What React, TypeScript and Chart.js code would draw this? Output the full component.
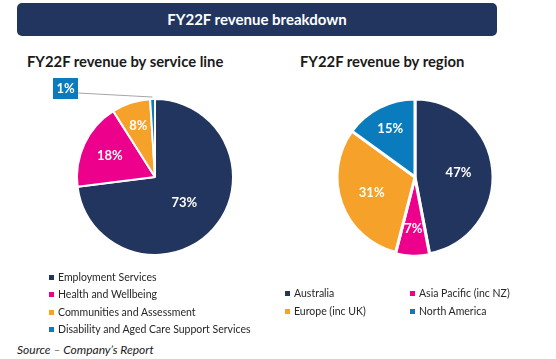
import React, { useEffect, useRef } from "react";
import { Chart, registerables } from "chart.js";

Chart.register(...registerables);

// ---------- data ----------
const serviceLabels = [
  "Employment Services",
  "Health and Wellbeing",
  "Communities and Assessment",
  "Disability and Aged Care Support Services",
];
const serviceValues = [73, 18, 8, 1];

const regionLabels = ["Australia", "Asia Pacific (inc NZ)", "Europe (inc UK)", "North America"];
const regionValues = [47, 7, 31, 15];

const mainTitle = "FY22F revenue breakdown";
const leftTitle = "FY22F revenue by service line";
const rightTitle = "FY22F revenue by region";
const sourceText = "Source \u2013 Company\u2019s Report";

// ---------- styles ----------
const NAVY = "#22355E";
const PINK = "#EC008C";
const ORANGE = "#F6A12A";
const BLUE = "#0A7CBD";
const sliceColors = [NAVY, PINK, ORANGE, BLUE];
const FONT = "Lato, 'Open Sans', sans-serif";

type LabelOpts = {
  radii: number[];
  callout?: boolean[];
};

function makeLabelPlugin(o: LabelOpts) {
  return {
    id: "sliceLabels",
    afterDatasetsDraw(chart: any) {
      const ctx = chart.ctx as CanvasRenderingContext2D;
      const meta = chart.getDatasetMeta(0);
      const data = chart.data.datasets[0].data as number[];
      ctx.save();
      ctx.font = "bold 13px " + FONT;
      ctx.textAlign = "center";
      ctx.textBaseline = "middle";
      meta.data.forEach((arc: any, i: number) => {
        const p = arc.getProps(["x", "y", "startAngle", "endAngle", "outerRadius"], true);
        const mid = (p.startAngle + p.endAngle) / 2;
        const text = data[i] + "%";
        if (o.callout && o.callout[i]) {
          const ex = p.x + Math.cos(mid) * (p.outerRadius + 2);
          const ey = p.y + Math.sin(mid) * (p.outerRadius + 2);
          const bx = p.x - 102;
          const by = p.y - 99;
          const bw = 25;
          const bh = 21;
          ctx.strokeStyle = "#A6A6A6";
          ctx.lineWidth = 1;
          ctx.beginPath();
          ctx.moveTo(bx + bw, by + 15);
          ctx.lineTo(ex, ey);
          ctx.stroke();
          ctx.fillStyle = sliceColors[i];
          ctx.fillRect(bx, by, bw, bh);
          ctx.fillStyle = "#FFFFFF";
          ctx.fillText(text, bx + bw / 2, by + bh / 2 + 0.5);
        } else {
          const r = p.outerRadius * o.radii[i];
          ctx.fillStyle = "#FFFFFF";
          ctx.fillText(text, p.x + Math.cos(mid) * r, p.y + Math.sin(mid) * r);
        }
      });
      ctx.restore();
    },
  };
}

function PieChart(props: {
  labels: string[];
  values: number[];
  width: number;
  height: number;
  left: number;
  top: number;
  border: number;
  offsets: number[];
  label: LabelOpts;
}) {
  const ref = useRef<HTMLCanvasElement | null>(null);
  useEffect(() => {
    if (!ref.current) return;
    const chart = new Chart(ref.current, {
      type: "pie",
      data: {
        labels: props.labels,
        datasets: [
          {
            data: props.values,
            backgroundColor: sliceColors,
            borderColor: "#FFFFFF",
            borderWidth: props.border,
            offset: props.offsets,
          },
        ],
      },
      options: {
        responsive: false,
        maintainAspectRatio: false,
        animation: false,
        radius: 78,
        layout: { padding: 0 },
        plugins: {
          legend: { display: false },
          tooltip: { enabled: false },
        },
      } as any,
      plugins: [makeLabelPlugin(props.label)],
    });
    return () => chart.destroy();
  }, []);
  return (
    <canvas
      ref={ref}
      width={props.width}
      height={props.height}
      style={{ position: "absolute", left: props.left, top: props.top, width: props.width, height: props.height }}
    />
  );
}

function LegendItem(props: { color: string; text: string; left: number; cy: number }) {
  return (
    <div
      style={{
        position: "absolute",
        left: props.left,
        top: props.cy - 8,
        height: 16,
        lineHeight: "16px",
        fontSize: 10.5,
        color: "#262626",
        whiteSpace: "nowrap",
        display: "flex",
        alignItems: "center",
      }}
    >
      <span style={{ display: "inline-block", width: 5, height: 5, background: props.color, marginRight: 4 }} />
      <span>{props.text}</span>
    </div>
  );
}

export default function App() {
  const leftRows = [277, 294, 312, 329];
  const rightPos = [
    { left: 285, cy: 293 },
    { left: 410, cy: 293 },
    { left: 285, cy: 311 },
    { left: 410, cy: 311 },
  ];
  return (
    <div
      style={{
        position: "fixed",
        left: 0,
        top: 0,
        width: 556,
        height: 359,
        background: "#FFFFFF",
        fontFamily: FONT,
        overflow: "hidden",
      }}
    >
      <div
        style={{
          position: "absolute",
          left: 17,
          top: 3,
          width: 480,
          height: 33,
          background: NAVY,
          borderRadius: 5,
          color: "#FFFFFF",
          fontWeight: 700,
          fontSize: 15,
          lineHeight: "33px",
          textAlign: "center",
        }}
      >
        {mainTitle}
      </div>
      <div
        style={{
          position: "absolute",
          left: 27,
          top: 51,
          lineHeight: "20px",
          fontSize: 14.8,
          fontWeight: 700,
          color: "#1A1A1A",
          whiteSpace: "nowrap",
        }}
      >
        {leftTitle}
      </div>
      <div
        style={{
          position: "absolute",
          left: 300,
          top: 51,
          lineHeight: "20px",
          fontSize: 14.8,
          fontWeight: 700,
          color: "#1A1A1A",
          whiteSpace: "nowrap",
        }}
      >
        {rightTitle}
      </div>

      <PieChart
        labels={serviceLabels}
        values={serviceValues}
        width={240}
        height={200}
        left={35}
        top={77}
        border={2}
        offsets={[0, 0, 0, 0]}
        label={{ radii: [0.5, 0.64, 0.69, 0], callout: [false, false, false, true] }}
      />
      <PieChart
        labels={regionLabels}
        values={regionValues}
        width={200}
        height={200}
        left={315}
        top={77}
        border={3}
        offsets={[0, 3, 0, 0]}
        label={{ radii: [0.56, 0.67, 0.59, 0.7] }}
      />

      {serviceLabels.map((t, i) => (
        <LegendItem key={t} color={sliceColors[i]} text={t} left={49} cy={leftRows[i]} />
      ))}
      {regionLabels.map((t, i) => (
        <LegendItem key={t} color={sliceColors[i]} text={t} left={rightPos[i].left} cy={rightPos[i].cy} />
      ))}

      <div
        style={{
          position: "absolute",
          left: 17,
          top: 341,
          lineHeight: "18px",
          fontSize: 12,
          fontStyle: "italic",
          color: "#1A1A1A",
          whiteSpace: "nowrap",
        }}
      >
        {sourceText}
      </div>
    </div>
  );
}
